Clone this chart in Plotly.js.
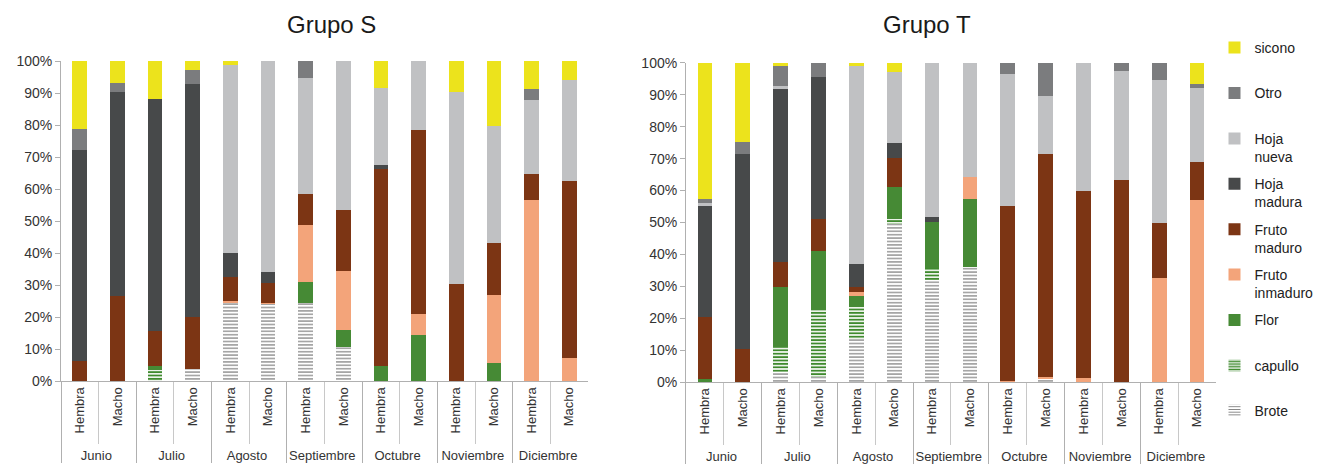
<!DOCTYPE html>
<html>
<head>
<meta charset="utf-8">
<script src="https://cdn.plot.ly/plotly-3.0.1.min.js"></script>
<style>body{margin:0;background:#fff}#chart{width:1330px;height:471px}</style>
</head>
<body>
<div id="chart"></div>
<script>
// Categories
const months = ['Junio','Julio','Agosto','Septiembre','Octubre','Noviembre','Diciembre'];
const sexes = ['Hembra','Macho'];
const seriesNames = ['Brote','capullo','Flor','Fruto inmaduro','Fruto maduro','Hoja madura','Hoja nueva','Otro','sicono'];
const legendLabels = ['Brote<br>&nbsp;','capullo<br>&nbsp;','Flor<br>&nbsp;','Fruto<br>inmaduro','Fruto<br>maduro','Hoja<br>madura','Hoja<br>nueva','Otro<br>&nbsp;','sicono<br>&nbsp;'];

// Grupo S values (%), order: Jun H, Jun M, Jul H, Jul M, Ago H, Ago M, Sep H, Sep M, Oct H, Oct M, Nov H, Nov M, Dic H, Dic M
const S_brote      = [0, 0, 0, 3.9, 24.5, 24, 24.5, 10.7, 0, 0, 0, 0, 0, 0];
const S_capullo    = [0, 0, 3.5, 0, 0, 0, 0, 0, 0, 0, 0, 0, 0, 0];
const S_flor       = [0, 0, 1.2, 0, 0, 0, 6.3, 5.2, 4.6, 14.5, 0, 5.7, 0, 0];
const S_frutoInm   = [0, 0, 0, 0, 0.5, 0.3, 17.9, 18.5, 0, 6.6, 0, 21.2, 56.6, 7.2];
const S_frutoMad   = [6.3, 26.6, 11, 16, 7.6, 6.2, 9.7, 19.1, 61.6, 57.3, 30.2, 16.1, 8.1, 55.2];
const S_hojaMad    = [66, 63.7, 72.3, 73, 7.3, 3.7, 0, 0, 1.2, 0, 0, 0, 0, 0];
const S_hojaNueva  = [0, 0, 0, 0, 58.7, 65.8, 36.4, 46.5, 24.2, 21.6, 60.1, 36.8, 23, 31.6];
const S_otro       = [6.5, 2.9, 0, 4.3, 0, 0, 5.2, 0, 0, 0, 0, 0, 3.7, 0];
const S_sicono     = [21.2, 6.8, 12, 2.8, 1.4, 0, 0, 0, 8.4, 0, 9.7, 20.2, 8.6, 6];

// Grupo T values (%)
const T_brote      = [0, 0, 3, 1.5, 13.5, 49.5, 32, 36.2, 0, 1, 0, 0, 0, 0];
const T_capullo    = [0, 0, 8, 21.1, 10, 1.5, 3.7, 0, 0, 0, 0, 0, 0, 0];
const T_flor       = [1, 0, 18.9, 18.6, 3.5, 10.2, 14.3, 21.2, 0, 0, 0, 0, 0, 0];
const T_frutoInm   = [0, 0, 0, 0, 1.3, 0, 0, 6.9, 0.3, 0.5, 1.4, 0, 32.5, 57];
const T_frutoMad   = [19.5, 10.2, 7.6, 10, 1.6, 9.1, 0, 0, 55, 70, 58.4, 63.3, 17.3, 11.9];
const T_hojaMad    = [34.6, 61.2, 54.5, 44.5, 7.1, 4.5, 1.6, 0, 0, 0, 0, 0, 0, 0];
const T_hojaNueva  = [1, 0, 0.9, 0, 62, 22.4, 48.4, 35.7, 41.2, 18.3, 40.2, 34.3, 45, 23.4];
const T_otro       = [1.3, 3.8, 6.3, 4.3, 0, 0, 0, 0, 3.5, 10.1, 0, 2.4, 5.2, 1.1];
const T_sicono     = [42.6, 24.8, 0.8, 0, 1, 2.8, 0, 0, 0, 0, 0, 0, 0, 6.6];

const yTicks = [0,10,20,30,40,50,60,70,80,90,100];
const yTickText = ['0%','10%','20%','30%','40%','50%','60%','70%','80%','90%','100%'];

const S_data = [S_brote, S_capullo, S_flor, S_frutoInm, S_frutoMad, S_hojaMad, S_hojaNueva, S_otro, S_sicono];
const T_data = [T_brote, T_capullo, T_flor, T_frutoInm, T_frutoMad, T_hojaMad, T_hojaNueva, T_otro, T_sicono];

// styles
const colors = ['#ffffff', '#ffffff', '#468a35', '#f3a47a', '#7c3514', '#47494a', '#c0c1c3', '#7b7c7e', '#ece31c'];
const patterns = [
  {shape:'-', fgcolor:'#808080', bgcolor:'#ffffff', size:3.4, solidity:0.35},
  {shape:'-', fgcolor:'#3f8a2e', bgcolor:'#ffffff', size:3.4, solidity:0.55},
  null, null, null, null, null, null, null
];

const xOuter = [], xInner = [];
months.forEach(m => sexes.forEach(s => { xOuter.push(m); xInner.push(s); }));

const traces = [];
[S_data, T_data].forEach((grp, gi) => {
  grp.forEach((vals, i) => {
    const marker = {color: colors[i], line:{width:0}};
    if (patterns[i]) marker.pattern = patterns[i];
    traces.push({
      type:'bar',
      x:[xOuter, xInner],
      y: vals,
      name: legendLabels[i],
      legendgroup: seriesNames[i],
      legendrank: 100 - i,
      showlegend: gi === 0,
      marker: marker,
      xaxis: gi === 0 ? 'x' : 'x2',
      yaxis: gi === 0 ? 'y' : 'y2',
      hoverinfo:'skip'
    });
  });
});

const FONT = 'Liberation Sans, Arial, sans-serif';
const xaxisBase = {
  type:'multicategory',
  showline:true, linecolor:'#b0b0b0', linewidth:1,
  ticks:'outside', ticklen:62, tickcolor:'#c8c8c8', tickwidth:1,
  showdividers:true, dividercolor:'#b0b0b0', dividerwidth:1,
  tickangle:-90,
  tickfont:{family:FONT, size:13, color:'#333'},
  showgrid:false, zeroline:false, fixedrange:true
};
const yaxisBase = {
  range:[0,100], tickmode:'array', tickvals:yTicks, ticktext:yTickText,
  showline:true, linecolor:'#b0b0b0', linewidth:1,
  ticks:'outside', ticklen:5, tickcolor:'#b0b0b0',
  showgrid:false, zeroline:false,
  tickfont:{family:FONT, size:14, color:'#333'}, fixedrange:true
};

const layout = {
  width:1330, height:471,
  margin:{l:61, r:101, t:61, b:89},
  paper_bgcolor:'#ffffff', plot_bgcolor:'#ffffff',
  barmode:'stack', bargap:0.61,
  font:{family:FONT, color:'#222'},
  xaxis: Object.assign({}, xaxisBase, {domain:[0, 0.4563], anchor:'y'}),
  xaxis2: Object.assign({}, xaxisBase, {domain:[0.5411, 1], anchor:'y2'}),
  yaxis: Object.assign({}, yaxisBase, {domain:[0.003, 1], anchor:'x'}),
  yaxis2: Object.assign({}, yaxisBase, {domain:[0, 0.9938], anchor:'x2'}),
  showlegend:true,
  legend:{
    x:0.9987, xanchor:'left', y:1+(61-32)/321, yanchor:'top',
    traceorder:'grouped', valign:'top',
    tracegroupgap:6, maxheight:460,
    font:{family:FONT, size:14, color:'#222'},
    itemwidth:30, bgcolor:'rgba(0,0,0,0)'
  },
  annotations:[
    {text:'Grupo S', xref:'paper', yref:'paper', x:(335-61)/1168, y:1+(61-25)/321, xanchor:'center', yanchor:'middle', showarrow:false, font:{size:24, color:'#1a1a1a', family:FONT}},
    {text:'Grupo T', xref:'paper', yref:'paper', x:(937-61)/1168, y:1+(61-25)/321, xanchor:'center', yanchor:'middle', showarrow:false, font:{size:24, color:'#1a1a1a', family:FONT}}
  ]
};

Plotly.newPlot('chart', traces, layout, {displayModeBar:false, staticPlot:true});
</script>
</body>
</html>
